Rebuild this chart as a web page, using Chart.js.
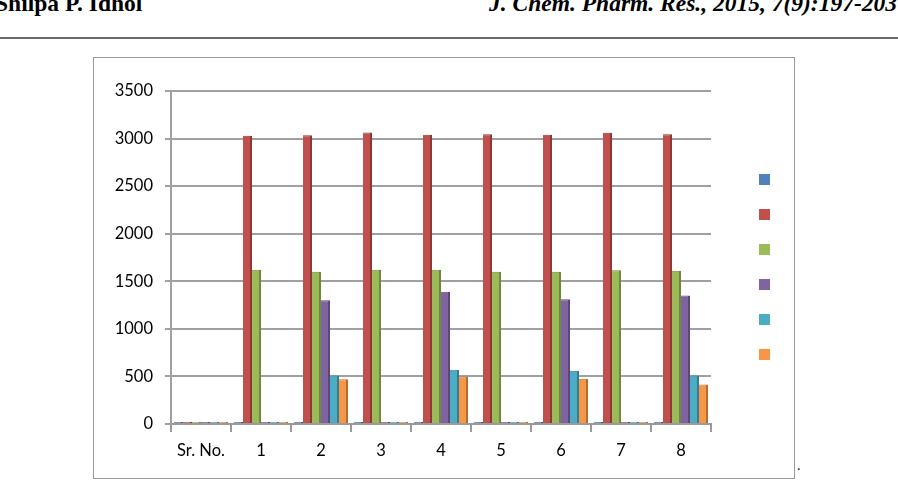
<!DOCTYPE html>
<html>
<head>
<meta charset="utf-8">
<script src="https://cdn.jsdelivr.net/npm/chart.js@4"></script>
<style>
  body { margin: 0; width: 898px; height: 486px; overflow: hidden; background: #fff; position: relative; }
  .hdr { position: absolute; top: -8px; font-family: "Liberation Serif", serif; font-weight: bold; font-size: 23.5px; line-height: 22px; color: #000; white-space: nowrap; }
  #hdrLeft { left: -5px; }
  #hdrRight { right: 1px; font-style: italic; }
  #rule { position: absolute; left: 0; top: 37px; width: 898px; height: 0; border-top: 2px solid #6a6a6a; }
  #box { position: absolute; left: 93px; top: 57px; width: 700px; height: 420px; border: 1px solid #9a9a9a; }
  #wrap { position: absolute; left: 94px; top: 58px; width: 700px; height: 420px; }
  #legend { position: absolute; left: 759px; top: 174px; }
  #legend div { width: 11px; height: 11px; margin-bottom: 24px; }
  #dot { position: absolute; left: 797px; top: 458px; font-family: "Liberation Serif", serif; font-size: 14px; }
</style>
</head>
<body>
<div class="hdr" id="hdrLeft">Shilpa P. Idhol</div>
<div class="hdr" id="hdrRight">J. Chem. Pharm. Res., 2015, 7(9):197-203</div>
<div id="rule"></div>
<div id="box"></div>
<div id="wrap"><canvas id="grafico" width="700" height="420"></canvas></div>
<div id="legend"></div>
<div id="dot">.</div>
<script>
// categorias y series
const categorias = ['Sr. No.', '1', '2', '3', '4', '5', '6', '7', '8'];
const serie1 = [0, 0, 0, 0, 0, 0, 0, 0, 0];
const serie2 = [0, 3030, 3035, 3065, 3040, 3045, 3040, 3060, 3045];
const serie3 = [0, 1620, 1600, 1620, 1620, 1600, 1600, 1615, 1610];
const serie4 = [0, 0, 1300, 0, 1390, 0, 1310, 0, 1350];
const serie5 = [0, 0, 510, 0, 570, 0, 560, 0, 510];
const serie6 = [0, 0, 470, 0, 500, 0, 475, 0, 415];
const ticksY = [0, 500, 1000, 1500, 2000, 2500, 3000, 3500];

const colores = ['#4F81BD', '#C0504D', '#9BBB59', '#8064A2', '#4BACC6', '#F79646'];
const bordes = ['#385D8A', '#8C3836', '#71893F', '#5C4776', '#357D91', '#B66D31'];
const series = [serie1, serie2, serie3, serie4, serie5, serie6];

const datasets = series.map(function (valores, i) {
    return {
        label: '',
        data: valores,
        backgroundColor: colores[i],
        borderColor: bordes[i],
        borderWidth: { top: 1, right: 2, left: 0, bottom: 0 },
        borderSkipped: 'bottom',
        minBarLength: 2,
        categoryPercentage: 0.9,
        barPercentage: 1.0
    };
});

const fuente = { family: 'Lato, "Open Sans", sans-serif', size: 16.5 };

new Chart(document.getElementById('grafico').getContext('2d'), {
    type: 'bar',
    data: { labels: categorias, datasets: datasets },
    options: {
        responsive: false,
        animation: false,
        layout: { padding: { top: 33, right: 83, left: 0, bottom: 0 } },
        plugins: {
            legend: { display: false },
            tooltip: { enabled: false }
        },
        scales: {
            x: {
                grid: { drawOnChartArea: false, drawTicks: true, tickLength: 8, color: '#9a9a9a', lineWidth: 2 },
                border: { color: '#9a9a9a', width: 2 },
                ticks: { color: '#000', font: fuente, padding: 9 },
                afterFit: function (escala) { escala.height = 54; }
            },
            y: {
                min: 0,
                max: 3500,
                afterBuildTicks: function (escala) { escala.ticks = ticksY.map(function (v) { return { value: v }; }); },
                grid: { color: '#a0a0a0', lineWidth: 2, tickLength: 6 },
                border: { color: '#a0a0a0', width: 2 },
                ticks: { color: '#000', font: fuente, padding: 12, callback: function (v) { return String(v); } },
                afterFit: function (escala) { escala.width = 77; }
            }
        }
    }
});

// leyenda sin texto, solo los cuadros de color
const leyenda = document.getElementById('legend');
colores.forEach(function (c) {
    const cuadro = document.createElement('div');
    cuadro.style.background = c;
    leyenda.appendChild(cuadro);
});
</script>
</body>
</html>
